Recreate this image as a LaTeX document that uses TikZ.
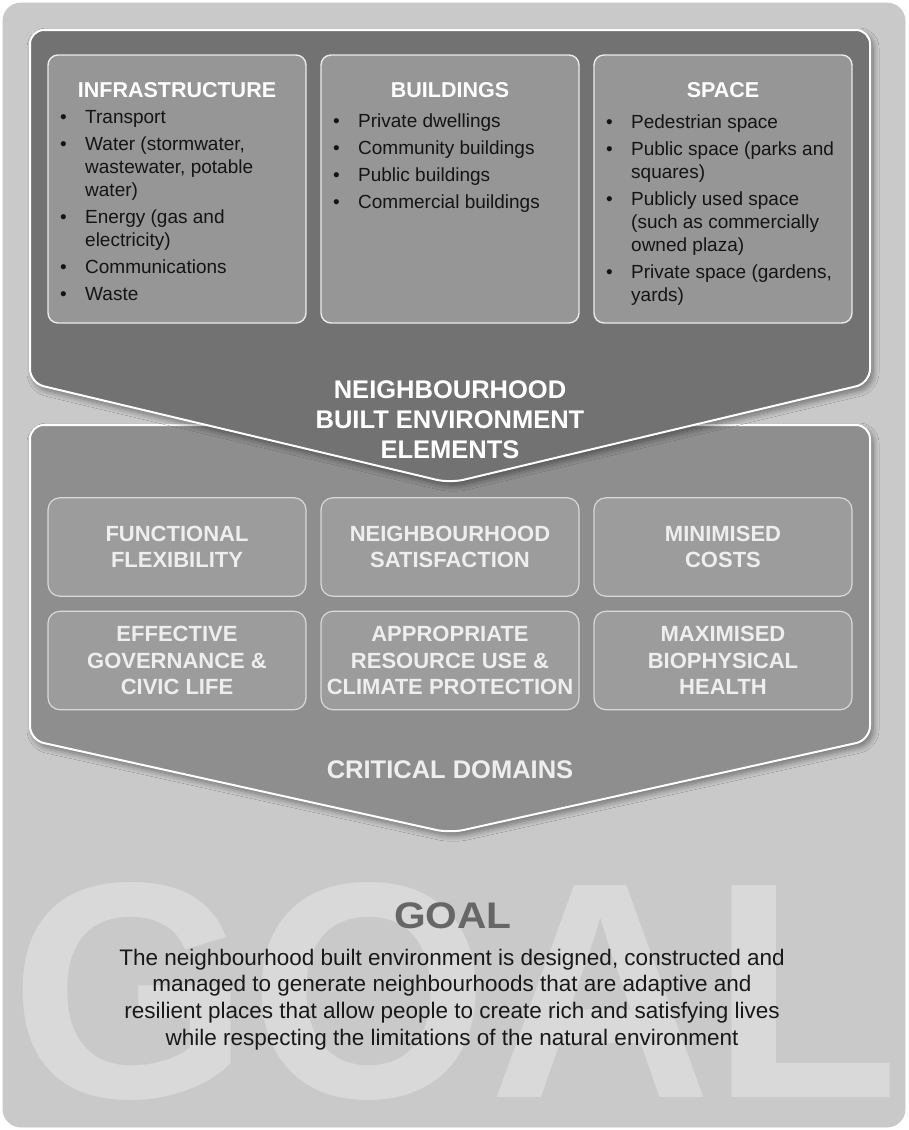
\documentclass[tikz,border=0pt]{standalone}
\usepackage{fontspec}
\usepackage{graphicx}
\setmainfont{Liberation Sans}
\usetikzlibrary{shadows.blur}
\definecolor{bgouter}{HTML}{C9C9C9}
\definecolor{wm}{HTML}{D9D9D9}
\definecolor{penta}{HTML}{727272}
\definecolor{pentb}{HTML}{8E8E8E}
\definecolor{topbx}{HTML}{969696}
\definecolor{dombx}{HTML}{9C9C9C}
\definecolor{goalc}{HTML}{666666}
\definecolor{domtxt}{HTML}{EEEEEE}
\newcommand\blt{\makebox[25pt][l]{\textbullet}}
\newcommand\nbl{\hspace*{25pt}}
\begin{document}
\begin{tikzpicture}[x=1pt,y=-1pt,
  pent/.style={fill=#1, draw=white, line width=2pt, rounded corners=14pt,
    blur shadow={shadow xshift=3pt, shadow yshift=-4pt, shadow blur steps=10, shadow blur radius=6pt, shadow opacity=45}},
  topbox/.style={fill=topbx, draw=white!92!black, line width=1.4pt, rounded corners=10pt,
    minimum width=258pt, minimum height=268pt, inner sep=0pt},
  dombox/.style={fill=dombx, draw=white!85!black, line width=1.2pt, rounded corners=12pt,
    minimum width=258pt, minimum height=98.5pt, inner sep=0pt, align=center, text=domtxt,
    font=\bfseries\fontsize{22}{26.5}\selectfont},
  head/.style={anchor=base, text=white, font=\bfseries\fontsize{21.5}{25}\selectfont, inner sep=0pt},
  li/.style={anchor=base west, inner sep=0pt, text=black!92, font=\fontsize{19}{23}\selectfont},
  big/.style={anchor=base, inner sep=0pt, text=white, font=\bfseries\fontsize{25.5}{30}\selectfont},
  body/.style={anchor=base, inner sep=0pt, text=black!90, font=\fontsize{22.5}{27}\selectfont},
]
\useasboundingbox (0,0) rectangle (909,1130);
\fill[white] (0,0) rectangle (909,1130);
\draw[fill=bgouter, draw=black!22, line width=0.8pt, rounded corners=18pt] (3,3) rectangle (905,1127);
% watermark
\node[anchor=base, inner sep=0pt, text=wm, font=\bfseries\fontsize{308}{308}\selectfont] (wmark) at (455,1097) {GOAL};
% critical domains pentagon
\draw[pent=pentb] (30,425) -- (870,425) -- (870,740) -- (450,833) -- (30,740) -- cycle;
\node[dombox] (ff) at (177,547) {FUNCTIONAL\\FLEXIBILITY};
\node[dombox] (ns) at (450,547) {NEIGHBOURHOOD\\SATISFACTION};
\node[dombox] (mc) at (723,547) {MINIMISED\\COSTS};
\node[dombox] (eg) at (177,660.5) {EFFECTIVE\\GOVERNANCE \&\\CIVIC LIFE};
\node[dombox] (ar) at (450,660.5) {APPROPRIATE\\RESOURCE USE \&\\CLIMATE PROTECTION};
\node[dombox] (mb) at (723,660.5) {MAXIMISED\\BIOPHYSICAL\\HEALTH};
\node[big, text=domtxt] (cd) at (450,778) {CRITICAL DOMAINS};
% elements pentagon
\draw[pent=penta] (30,30) -- (870,30) -- (870,383) -- (450,483) -- (30,383) -- cycle;
\node[topbox] (infra) at (177,189) {};
\node[topbox] (bldg) at (450,189) {};
\node[topbox] (space) at (723,189) {};
\node[head] (hinfra) at (177,97) {INFRASTRUCTURE};
\node[head] (hbldg) at (450,97) {BUILDINGS};
\node[head] (hspace) at (723,97) {SPACE};
% infrastructure list
\node[li] (i1) at (60,123) {\blt Transport};
\node[li] (i2) at (60,150) {\blt Water (stormwater,};
\node[li] (i3) at (60,173) {\nbl wastewater, potable};
\node[li] (i4) at (60,196) {\nbl water)};
\node[li] (i5) at (60,223) {\blt Energy (gas and};
\node[li] (i6) at (60,246) {\nbl electricity)};
\node[li] (i7) at (60,273) {\blt Communications};
\node[li] (i8) at (60,300) {\blt Waste};
% buildings list
\node[li] (b1) at (333,127) {\blt Private dwellings};
\node[li] (b2) at (333,154) {\blt Community buildings};
\node[li] (b3) at (333,181) {\blt Public buildings};
\node[li] (b4) at (333,208) {\blt Commercial buildings};
% space list
\node[li] (s1) at (606,128) {\blt Pedestrian space};
\node[li] (s2) at (606,155) {\blt Public space (parks and};
\node[li] (s3) at (606,178) {\nbl squares)};
\node[li] (s4) at (606,205) {\blt Publicly used space};
\node[li] (s5) at (606,228) {\nbl (such as commercially};
\node[li] (s6) at (606,251) {\nbl owned plaza)};
\node[li] (s7) at (606,278) {\blt Private space (gardens,};
\node[li] (s8) at (606,301) {\nbl yards)};
% label
\node[big] (n1) at (450,398) {NEIGHBOURHOOD};
\node[big] (n2) at (450,428) {BUILT ENVIRONMENT};
\node[big] (n3) at (450,458) {ELEMENTS};
% goal
\node[anchor=base, inner sep=0pt, text=goalc, font=\bfseries\fontsize{37}{40}\selectfont] (goal) at (453,928) {\scalebox{1.1}[1]{GOAL}};
\node[body] (g1) at (452,965) {The neighbourhood built environment is designed, constructed and};
\node[body] (g2) at (452,991.7) {managed to generate neighbourhoods that are adaptive and};
\node[body] (g3) at (452,1018.4) {resilient places that allow people to create rich and satisfying lives};
\node[body] (g4) at (452,1045) {while respecting the limitations of the natural environment};
\end{tikzpicture}
\end{document}
